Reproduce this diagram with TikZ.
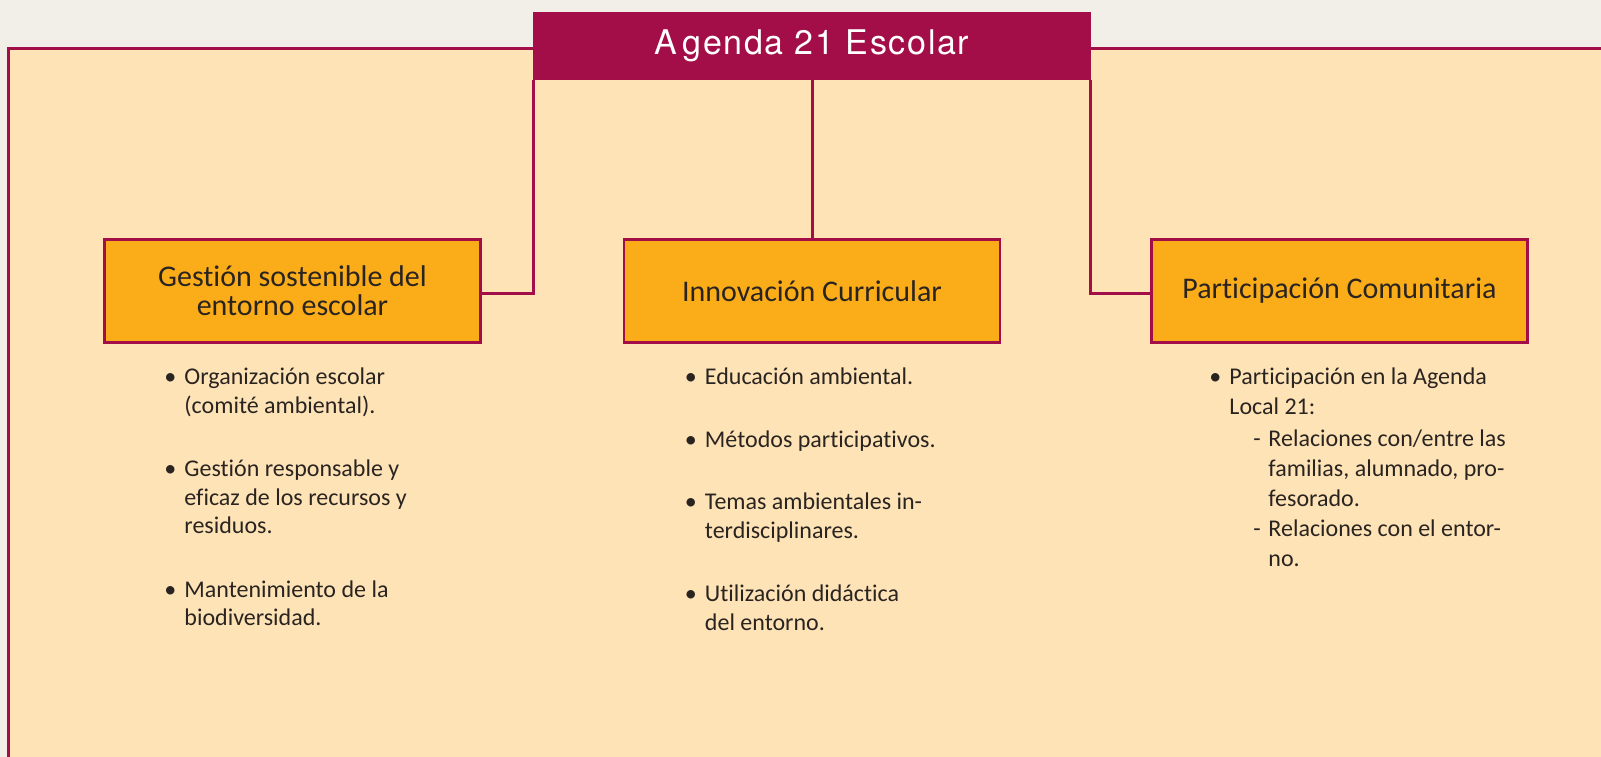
\documentclass[tikz,border=0pt]{standalone}
\usepackage{fontspec}
\setmainfont{Carlito}[Ligatures=NoCommon]
\newfontfamily\titlefont[LetterSpace=5]{TeX Gyre Heros}
\usetikzlibrary{positioning}
\definecolor{paper}{HTML}{F2EFE8}
\definecolor{peach}{HTML}{FEE3B7}
\definecolor{wine}{HTML}{A30D48}
\definecolor{amber}{HTML}{FBAC19}
\definecolor{ink}{HTML}{2A2421}
\tikzset{head/.style={draw=wine, line width=2.5pt, fill=amber, minimum width=376pt, minimum height=103pt, inner sep=0pt, align=center, text=ink, font=\fontsize{30}{29}\selectfont}}
\tikzset{items/.style={inner sep=0pt, align=left, text=ink, font=\fontsize{24}{28.5}\selectfont}}
\tikzset{link/.style={draw=wine, line width=3pt}}
\newcommand{\itembul}{\makebox[20pt][l]{\textbullet}}
\newcommand{\itemind}{\hspace*{20pt}}

\begin{document}
\begin{tikzpicture}[x=1pt, y=-1pt]
\useasboundingbox (0,0) rectangle (1601,757);
\fill[paper] (0,0) rectangle (1601,757);
\fill[peach] (8,49) rectangle (1601,757);
\draw[wine, line width=3pt] (8,757) -- (8,49) -- (1601,49);

\node[fill=wine, minimum width=558pt, minimum height=68pt, inner sep=0pt, text=white,
  font=\titlefont\fontsize{34}{34}\selectfont] (agenda) at (812,46) {A\kern5pt genda 21 Escolar};

\node[head] (innov) [below=158pt of agenda] {Innovación Curricular};
\node[head] (gestion) [left=141pt of innov] {Gestión sostenible del\\entorno escolar};
\node[head] (partic) [right=149pt of innov] {Participación Comunitaria};

\draw[link] ([xshift=1pt]agenda.south west) |- ([yshift=-3pt]gestion.east);
\draw[link] (agenda.south) -- (innov.north);
\draw[link] ([xshift=-1pt]agenda.south east) |- ([yshift=-3pt]partic.west);

% listas bajo cada bloque
\node[items] (gestlist) [below=24pt of gestion.south west, xshift=61pt, anchor=north west]
  {\itembul Organización escolar\\\itemind(comité ambiental).\\[35pt]
   \itembul Gestión responsable y\\\itemind eficaz de los recursos y\\\itemind residuos.\\[35pt]
   \itembul Mantenimiento de la\\\itemind biodiversidad.};
\node[items] (innovlist) [below=24pt of innov.south west, xshift=62pt, anchor=north west]
  {\itembul Educación ambiental.\\[34pt]
   \itembul Métodos participativos.\\[34pt]
   \itembul Temas ambientales in-\\\itemind terdisciplinares.\\[35pt]
   \itembul Utilización didáctica\\\itemind del entorno.};
\node[items, font=\fontsize{24}{30}\selectfont] (particlist) [below=24pt of partic.south west, xshift=59pt, anchor=north west]
  {\itembul Participación en la Agenda\\\itemind Local 21:\\[2pt]
   \itemind\hspace*{24pt}\makebox[15pt][l]{-}Relaciones con/entre las\\
   \itemind\hspace*{39pt}familias, alumnado, pro-\\
   \itemind\hspace*{39pt}fesorado.\\
   \itemind\hspace*{24pt}\makebox[15pt][l]{-}Relaciones con el entor-\\
   \itemind\hspace*{39pt}no.};
\end{tikzpicture}
\end{document}
